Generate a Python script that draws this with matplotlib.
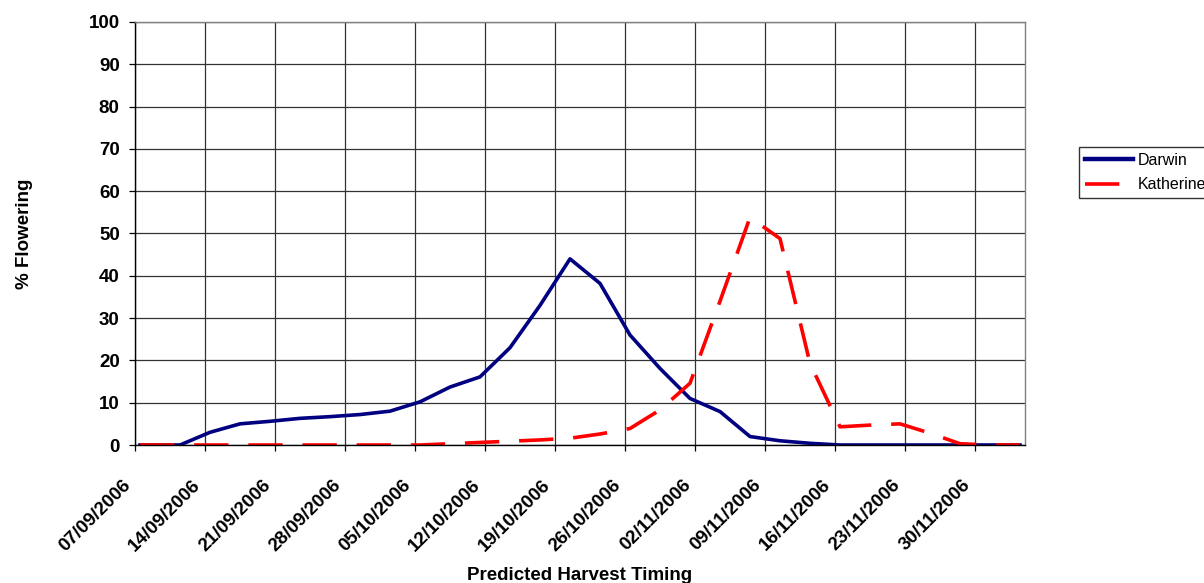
import matplotlib.pyplot as plt
import matplotlib.transforms as mtransforms

plt.rcParams['font.family'] = ['Liberation Sans', 'DejaVu Sans']

# days after 07/09/2006
days = [0.5, 4.5, 7.5, 10.5, 13.5, 16.5, 19.5, 22.5, 25.5, 28.5,
        31.5, 34.5, 37.5, 40.5, 43.5, 46.5, 49.5, 52.5, 55.5, 58.5,
        61.5, 64.5, 67.5, 70.5, 73.5, 76.5, 79.5, 82.5, 85.5, 88.5]

darwin = [0, 0, 3, 5, 5.6, 6.3, 6.7, 7.2, 8, 10.2,
          13.7, 16.1, 23, 33, 44, 38.2, 26, 18.1, 11, 7.9,
          2, 1, 0.4, 0, 0, 0, 0, 0, 0, 0]

katherine = [0, 0, 0, 0, 0, 0, 0, 0, 0, 0,
             0.3, 0.6, 0.9, 1.2, 1.6, 2.6, 3.9, 8.3, 14.6, 34,
             53.8, 48.8, 19.3, 4.3, 4.7, 5, 2.8, 0.3, 0, 0]

tick_days = [0, 7, 14, 21, 28, 35, 42, 49, 56, 63, 70, 77, 84]
tick_labels = ['07/09/2006', '14/09/2006', '21/09/2006', '28/09/2006',
               '05/10/2006', '12/10/2006', '19/10/2006', '26/10/2006',
               '02/11/2006', '09/11/2006', '16/11/2006', '23/11/2006',
               '30/11/2006']

fig = plt.figure(figsize=(12.04, 5.83), dpi=100)
ax = fig.add_axes([135/1204, 1 - 445/583, 890/1204, 423/583])

ax.plot(days, darwin, color='#000080', lw=2.6, label='Darwin')
ax.plot(days, katherine, color='#ff0000', lw=2.6, label='Katherine',
        dashes=(9.5, 5.5))

ax.set_xlim(0, 89)
ax.set_ylim(0, 100)
ax.set_yticks(range(0, 101, 10))
ax.set_xticks(tick_days)
ax.set_xticklabels(tick_labels, rotation=45, ha='right', va='center',
                   rotation_mode='anchor')

ax.grid(True, color='#333333', lw=0.9)
ax.set_axisbelow(True)
ax.tick_params(direction='out', length=4.5, width=0.9, color='black',
               labelsize=13.5)
ax.tick_params(axis='y', pad=6.5)
ax.tick_params(axis='x', pad=0)
offset = mtransforms.ScaledTranslation(-7/100, -31/100, fig.dpi_scale_trans)
for lab in ax.get_xticklabels():
    lab.set_transform(lab.get_transform() + offset)
for lab in ax.get_xticklabels() + ax.get_yticklabels():
    lab.set_fontweight('bold')

ax.spines['left'].set_color('black')
ax.spines['bottom'].set_color('black')
ax.spines['top'].set_color('#808080')
ax.spines['right'].set_color('#808080')
for s in ax.spines.values():
    s.set_linewidth(1.0)

ax.set_xlabel('Predicted Harvest Timing', fontsize=13.5, fontweight='bold')
ax.set_ylabel('% Flowering', fontsize=13.5, fontweight='bold')
ax.xaxis.set_label_coords(0.5, -0.288)
ax.yaxis.set_label_coords(-0.115, 0.5)

leg = ax.legend(loc='upper left', bbox_to_anchor=(1079/1204, 1 - 147/583),
                bbox_transform=fig.transFigure, borderaxespad=0,
                fontsize=11.5, frameon=True, fancybox=False, handlelength=3.0,
                borderpad=0.35, labelspacing=0.6, handletextpad=0.3)
leg.get_frame().set_edgecolor('black')
leg.get_frame().set_linewidth(1.0)
leg.get_lines()[0].set_linewidth(3.2)

fig.savefig('out.png', dpi=100)
